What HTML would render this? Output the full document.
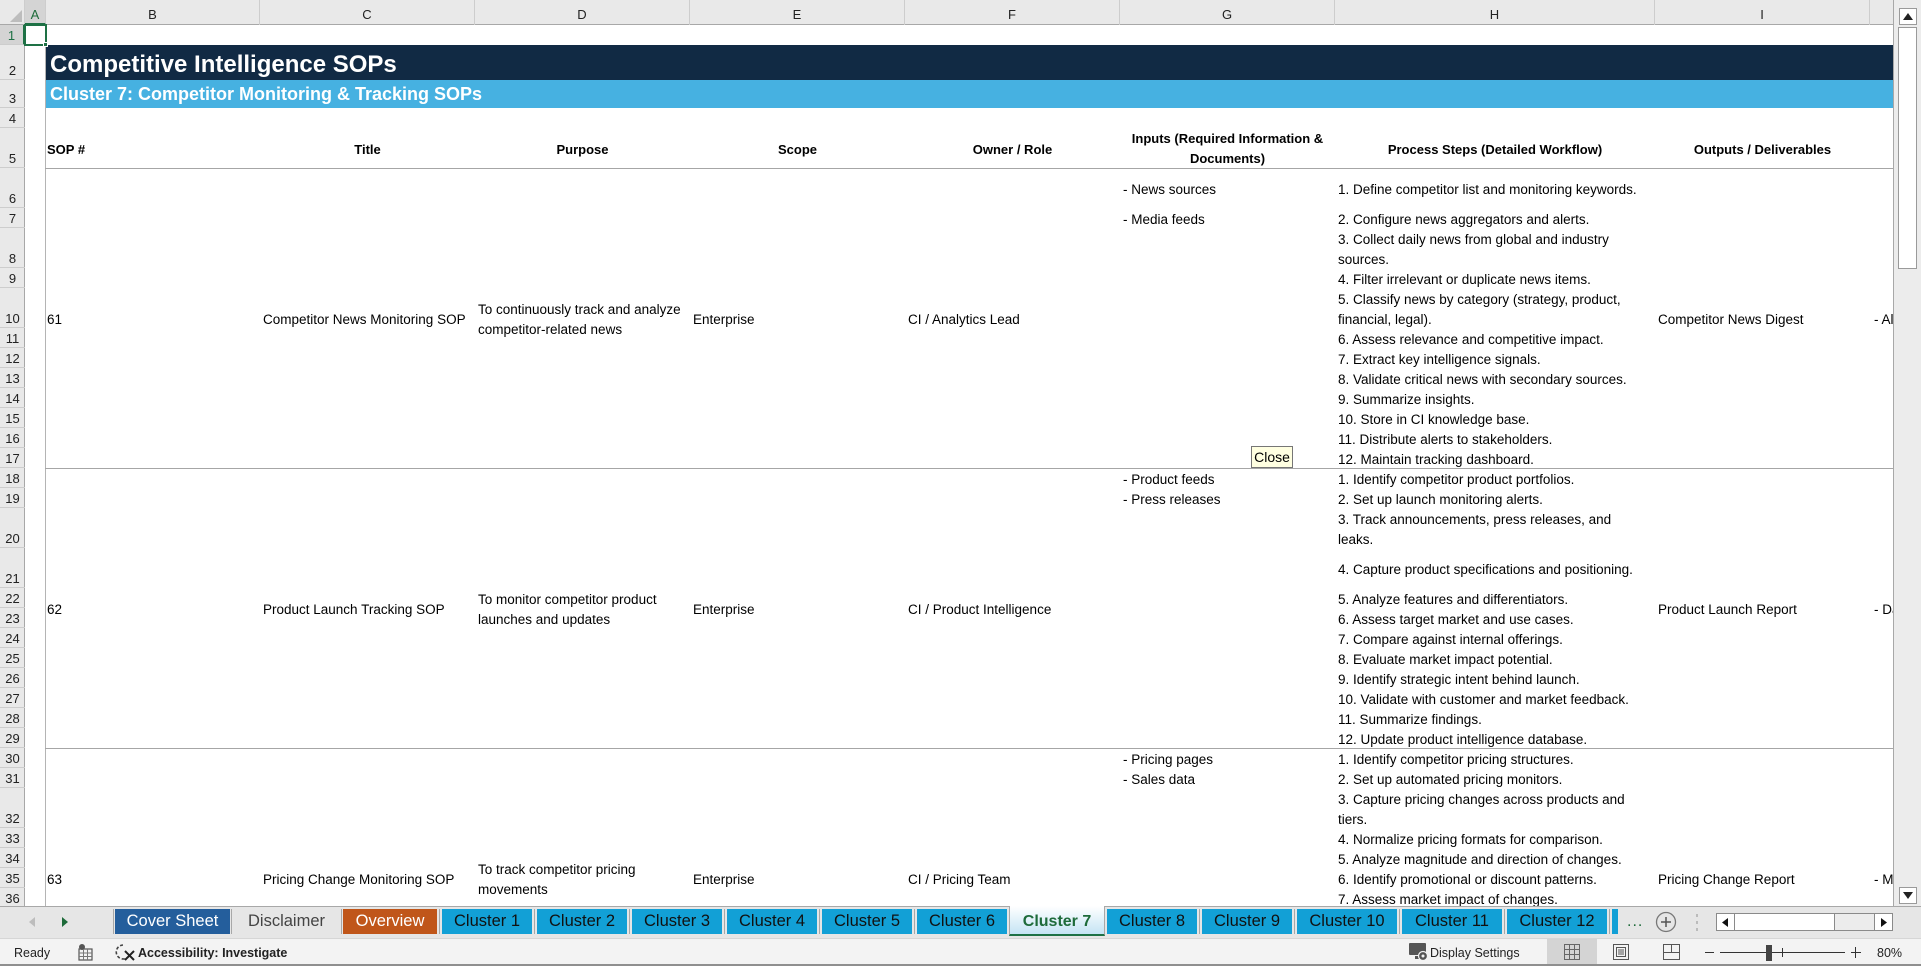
<!DOCTYPE html>
<html><head><meta charset="utf-8">
<style>
*{margin:0;padding:0;box-sizing:border-box}
body{width:1921px;height:966px;overflow:hidden;background:#fff;font-family:"Liberation Sans",Arial,sans-serif;position:relative}
.a{position:absolute}
.t{position:absolute;font-size:13.5px;line-height:20px;white-space:nowrap;color:#000;margin-top:2px}
.ch{position:absolute;top:0;height:25px;line-height:30px;text-align:center;font-size:13px;color:#222;border-right:1px solid #cdcdcd}
.rh{position:absolute;left:0;width:25px;text-align:center;font-size:13px;line-height:16px;color:#222;border-bottom:1px solid #cdcdcd;display:flex;align-items:flex-end;justify-content:center;padding-bottom:0}
.hd{position:absolute;font-size:13px;font-weight:bold;line-height:20px;text-align:center;white-space:nowrap;color:#000}
.tab{position:absolute;top:909px;height:25px;line-height:25px;font-size:16.5px;text-align:center;color:#111;background:#12a0d6;white-space:nowrap}
.sep{position:absolute;top:909px;width:1px;height:25px;background:#a8a8a8}
.hl{position:absolute;left:45px;width:1849px;height:1px;background:#a6a6a6}
</style></head><body>

<!-- SHEET AREA -->
<div class="a" style="left:0;top:0;width:1894px;height:906px;overflow:hidden;background:#fff">

  <!-- column header -->
  <div class="a" style="left:0;top:0;width:1894px;height:25px;background:#e9e9e9;border-bottom:1px solid #a8a8a8"></div>
  <div class="a" style="left:0;top:0;width:25px;height:25px;border-right:1px solid #cdcdcd"></div>
  <svg class="a" style="left:9px;top:9px" width="14" height="14"><polygon points="13,1 13,13 1,13" fill="#bdbdbd"/></svg>
  <div class="ch" style="left:25px;width:21px;background:#d4d4d4;color:#1e6b3a;border-bottom:2px solid #1e7145">A</div>
  <div class="ch" style="left:46px;width:214px">B</div>
  <div class="ch" style="left:260px;width:215px">C</div>
  <div class="ch" style="left:475px;width:215px">D</div>
  <div class="ch" style="left:690px;width:215px">E</div>
  <div class="ch" style="left:905px;width:215px">F</div>
  <div class="ch" style="left:1120px;width:215px">G</div>
  <div class="ch" style="left:1335px;width:320px">H</div>
  <div class="ch" style="left:1655px;width:215px">I</div>
  <div class="ch" style="left:1870px;width:30px;border-right:none"></div>

  <!-- row header background -->
  <div class="a" style="left:0;top:25px;width:25px;height:881px;background:#e9e9e9;border-right:1px solid #a8a8a8"></div>
  <div class="rh" style="top:25px;height:20px;background:#d4d4d4;color:#1e7145;border-right:2px solid #1e7145">1</div>
  <div class="rh" style="top:45px;height:35px">2</div>
  <div class="rh" style="top:80px;height:28px">3</div>
  <div class="rh" style="top:108px;height:20px">4</div>
  <div class="rh" style="top:128px;height:40px">5</div>
  <div class="rh" style="top:168px;height:40px">6</div>
  <div class="rh" style="top:208px;height:20px">7</div>
  <div class="rh" style="top:228px;height:40px">8</div>
  <div class="rh" style="top:268px;height:20px">9</div>
  <div class="rh" style="top:288px;height:40px">10</div>
  <div class="rh" style="top:328px;height:20px">11</div>
  <div class="rh" style="top:348px;height:20px">12</div>
  <div class="rh" style="top:368px;height:20px">13</div>
  <div class="rh" style="top:388px;height:20px">14</div>
  <div class="rh" style="top:408px;height:20px">15</div>
  <div class="rh" style="top:428px;height:20px">16</div>
  <div class="rh" style="top:448px;height:20px">17</div>
  <div class="rh" style="top:468px;height:20px">18</div>
  <div class="rh" style="top:488px;height:20px">19</div>
  <div class="rh" style="top:508px;height:40px">20</div>
  <div class="rh" style="top:548px;height:40px">21</div>
  <div class="rh" style="top:588px;height:20px">22</div>
  <div class="rh" style="top:608px;height:20px">23</div>
  <div class="rh" style="top:628px;height:20px">24</div>
  <div class="rh" style="top:648px;height:20px">25</div>
  <div class="rh" style="top:668px;height:20px">26</div>
  <div class="rh" style="top:688px;height:20px">27</div>
  <div class="rh" style="top:708px;height:20px">28</div>
  <div class="rh" style="top:728px;height:20px">29</div>
  <div class="rh" style="top:748px;height:20px">30</div>
  <div class="rh" style="top:768px;height:20px">31</div>
  <div class="rh" style="top:788px;height:40px">32</div>
  <div class="rh" style="top:828px;height:20px">33</div>
  <div class="rh" style="top:848px;height:20px">34</div>
  <div class="rh" style="top:868px;height:20px">35</div>
  <div class="rh" style="top:888px;height:20px">36</div>

  <!-- frozen/column A divider -->
  <div class="a" style="left:45px;top:25px;width:1px;height:881px;background:#b4b4b4"></div>

  <!-- title bands -->
  <div class="a" style="left:46px;top:45px;width:1848px;height:35px;background:#112a44"></div>
  <div class="a" style="left:46px;top:80px;width:1848px;height:28px;background:#46b1e1"></div>
  <div class="a" style="left:50px;top:47px;height:35px;line-height:35px;font-size:24px;font-weight:bold;color:#fff;white-space:nowrap">Competitive Intelligence SOPs</div>
  <div class="a" style="left:50px;top:80px;height:28px;line-height:28px;font-size:18px;font-weight:bold;color:#fff;white-space:nowrap">Cluster 7: Competitor Monitoring &amp; Tracking SOPs</div>

  <!-- selection A1 -->
  <div class="a" style="left:24px;top:24px;width:23px;height:22px;border:2px solid #1e7145"></div>
  <div class="a" style="left:43px;top:42px;width:5px;height:5px;background:#1e7145;border:1px solid #fff"></div>

  <!-- header row 5 -->
  <div class="hd" style="left:47px;top:140px;text-align:left">SOP #</div>
  <div class="hd" style="left:260px;top:140px;width:215px">Title</div>
  <div class="hd" style="left:475px;top:140px;width:215px">Purpose</div>
  <div class="hd" style="left:690px;top:140px;width:215px">Scope</div>
  <div class="hd" style="left:905px;top:140px;width:215px">Owner / Role</div>
  <div class="hd" style="left:1120px;top:129px;width:215px">Inputs (Required Information &amp;<br>Documents)</div>
  <div class="hd" style="left:1335px;top:140px;width:320px">Process Steps (Detailed Workflow)</div>
  <div class="hd" style="left:1655px;top:140px;width:215px">Outputs / Deliverables</div>

  <!-- horizontal borders -->
  <div class="hl" style="top:168px"></div>
  <div class="hl" style="top:468px"></div>
  <div class="hl" style="top:748px"></div>

  <!-- block 1 -->
  <div class="t" style="left:47px;top:308px">61</div>
  <div class="t" style="left:263px;top:308px">Competitor News Monitoring SOP</div>
  <div class="t" style="left:478px;top:298px">To continuously track and analyze<br>competitor-related news</div>
  <div class="t" style="left:693px;top:308px">Enterprise</div>
  <div class="t" style="left:908px;top:308px">CI / Analytics Lead</div>
  <div class="t" style="left:1658px;top:308px">Competitor News Digest</div>
  <div class="t" style="left:1874px;top:308px">- Alerts</div>
  <div class="t" style="left:1123px;top:178px">- News sources</div>
  <div class="t" style="left:1123px;top:208px">- Media feeds</div>
  <div class="t" style="left:1338px;top:178px">1. Define competitor list and monitoring keywords.</div>
  <div class="t" style="left:1338px;top:208px">2. Configure news aggregators and alerts.</div>
  <div class="t" style="left:1338px;top:228px">3. Collect daily news from global and industry<br>sources.</div>
  <div class="t" style="left:1338px;top:268px">4. Filter irrelevant or duplicate news items.</div>
  <div class="t" style="left:1338px;top:288px">5. Classify news by category (strategy, product,<br>financial, legal).</div>
  <div class="t" style="left:1338px;top:328px">6. Assess relevance and competitive impact.</div>
  <div class="t" style="left:1338px;top:348px">7. Extract key intelligence signals.</div>
  <div class="t" style="left:1338px;top:368px">8. Validate critical news with secondary sources.</div>
  <div class="t" style="left:1338px;top:388px">9. Summarize insights.</div>
  <div class="t" style="left:1338px;top:408px">10. Store in CI knowledge base.</div>
  <div class="t" style="left:1338px;top:428px">11. Distribute alerts to stakeholders.</div>
  <div class="t" style="left:1338px;top:448px">12. Maintain tracking dashboard.</div>

  <!-- block 2 -->
  <div class="t" style="left:47px;top:598px">62</div>
  <div class="t" style="left:263px;top:598px">Product Launch Tracking SOP</div>
  <div class="t" style="left:478px;top:588px">To monitor competitor product<br>launches and updates</div>
  <div class="t" style="left:693px;top:598px">Enterprise</div>
  <div class="t" style="left:908px;top:598px">CI / Product Intelligence</div>
  <div class="t" style="left:1658px;top:598px">Product Launch Report</div>
  <div class="t" style="left:1874px;top:598px">- Dashboards</div>
  <div class="t" style="left:1123px;top:468px">- Product feeds</div>
  <div class="t" style="left:1123px;top:488px">- Press releases</div>
  <div class="t" style="left:1338px;top:468px">1. Identify competitor product portfolios.</div>
  <div class="t" style="left:1338px;top:488px">2. Set up launch monitoring alerts.</div>
  <div class="t" style="left:1338px;top:508px">3. Track announcements, press releases, and<br>leaks.</div>
  <div class="t" style="left:1338px;top:558px">4. Capture product specifications and positioning.</div>
  <div class="t" style="left:1338px;top:588px">5. Analyze features and differentiators.</div>
  <div class="t" style="left:1338px;top:608px">6. Assess target market and use cases.</div>
  <div class="t" style="left:1338px;top:628px">7. Compare against internal offerings.</div>
  <div class="t" style="left:1338px;top:648px">8. Evaluate market impact potential.</div>
  <div class="t" style="left:1338px;top:668px">9. Identify strategic intent behind launch.</div>
  <div class="t" style="left:1338px;top:688px">10. Validate with customer and market feedback.</div>
  <div class="t" style="left:1338px;top:708px">11. Summarize findings.</div>
  <div class="t" style="left:1338px;top:728px">12. Update product intelligence database.</div>

  <!-- block 3 -->
  <div class="t" style="left:47px;top:868px">63</div>
  <div class="t" style="left:263px;top:868px">Pricing Change Monitoring SOP</div>
  <div class="t" style="left:478px;top:858px">To track competitor pricing<br>movements</div>
  <div class="t" style="left:693px;top:868px">Enterprise</div>
  <div class="t" style="left:908px;top:868px">CI / Pricing Team</div>
  <div class="t" style="left:1658px;top:868px">Pricing Change Report</div>
  <div class="t" style="left:1874px;top:868px">- Monitoring</div>
  <div class="t" style="left:1123px;top:748px">- Pricing pages</div>
  <div class="t" style="left:1123px;top:768px">- Sales data</div>
  <div class="t" style="left:1338px;top:748px">1. Identify competitor pricing structures.</div>
  <div class="t" style="left:1338px;top:768px">2. Set up automated pricing monitors.</div>
  <div class="t" style="left:1338px;top:788px">3. Capture pricing changes across products and<br>tiers.</div>
  <div class="t" style="left:1338px;top:828px">4. Normalize pricing formats for comparison.</div>
  <div class="t" style="left:1338px;top:848px">5. Analyze magnitude and direction of changes.</div>
  <div class="t" style="left:1338px;top:868px">6. Identify promotional or discount patterns.</div>
  <div class="t" style="left:1338px;top:888px">7. Assess market impact of changes.</div>

  <!-- Close tooltip -->
  <div class="a" style="left:1251px;top:446px;width:42px;height:22px;background:#ffffe1;border:1px solid #767676;font-size:14px;line-height:20px;text-align:center;color:#000">Close</div>

  <!-- sheet right edge -->
  <div class="a" style="left:1893px;top:0;width:1px;height:906px;background:#a8a8a8"></div>
</div>

<!-- vertical scrollbar -->
<div class="a" style="left:1894px;top:0;width:27px;height:906px;background:#ececec"></div>
<div class="a" style="left:1899px;top:8px;width:18px;height:17px;background:#fff;border:1px solid #9a9a9a"></div>
<svg class="a" style="left:1902px;top:12px" width="12" height="9"><polygon points="6,1 11,8 1,8" fill="#222"/></svg>
<div class="a" style="left:1898px;top:27px;width:19px;height:242px;background:#fff;border:1px solid #9a9a9a"></div>
<div class="a" style="left:1899px;top:887px;width:18px;height:17px;background:#fff;border:1px solid #9a9a9a"></div>
<svg class="a" style="left:1902px;top:891px" width="12" height="9"><polygon points="1,1 11,1 6,8" fill="#222"/></svg>

<!-- tab bar -->
<div class="a" style="left:0;top:906px;width:1921px;height:32px;background:#e6e6e6;border-top:1px solid #a8a8a8"></div>
<svg class="a" style="left:28px;top:916px" width="8" height="12"><polygon points="7,1 7,11 1,6" fill="#bdbdbd"/></svg>
<svg class="a" style="left:61px;top:916px" width="8" height="12"><polygon points="1,1 1,11 7,6" fill="#1e6b3a"/></svg>
<div class="sep" style="left:113px"></div>
<div class="tab" style="left:115px;width:115px;background:#245e9c;color:#fff">Cover Sheet</div>
<div class="sep" style="left:231px"></div>
<div class="tab" style="left:233px;width:107px;background:transparent;color:#444">Disclaimer</div>
<div class="sep" style="left:341px"></div>
<div class="tab" style="left:343px;width:94px;background:#c0561a;color:#fff">Overview</div>
<div class="sep" style="left:439px"></div>
<div class="tab" style="left:442px;width:90px">Cluster 1</div>
<div class="sep" style="left:534px"></div>
<div class="tab" style="left:537px;width:90px">Cluster 2</div>
<div class="sep" style="left:629px"></div>
<div class="tab" style="left:632px;width:90px">Cluster 3</div>
<div class="sep" style="left:724px"></div>
<div class="tab" style="left:727px;width:90px">Cluster 4</div>
<div class="sep" style="left:819px"></div>
<div class="tab" style="left:822px;width:90px">Cluster 5</div>
<div class="sep" style="left:914px"></div>
<div class="tab" style="left:917px;width:90px">Cluster 6</div>
<div class="a" style="left:1009px;top:906px;width:96px;height:30px;background:linear-gradient(#ffffff,#c4e4f4);border-left:1px solid #a8a8a8;border-right:1px solid #a8a8a8;border-bottom:2px solid #1e7145"></div>
<div class="tab" style="left:1010px;width:94px;background:transparent;color:#1e6b3a;font-weight:bold;font-size:16px">Cluster 7</div>
<div class="tab" style="left:1107px;width:90px">Cluster 8</div>
<div class="sep" style="left:1199px"></div>
<div class="tab" style="left:1202px;width:90px">Cluster 9</div>
<div class="sep" style="left:1294px"></div>
<div class="tab" style="left:1297px;width:100px">Cluster 10</div>
<div class="sep" style="left:1399px"></div>
<div class="tab" style="left:1402px;width:100px">Cluster 11</div>
<div class="sep" style="left:1504px"></div>
<div class="tab" style="left:1507px;width:100px">Cluster 12</div>
<div class="sep" style="left:1609px"></div>
<div class="tab" style="left:1612px;width:6px"></div>
<div class="a" style="left:1627px;top:909px;height:25px;line-height:25px;font-size:16px;color:#1e6b3a;letter-spacing:1px">...</div>
<svg class="a" style="left:1655px;top:911px" width="22" height="22"><circle cx="11" cy="11" r="9.5" fill="none" stroke="#777" stroke-width="1.3"/><line x1="6" y1="11" x2="16" y2="11" stroke="#555" stroke-width="1.5"/><line x1="11" y1="6" x2="11" y2="16" stroke="#555" stroke-width="1.5"/></svg>
<svg class="a" style="left:1695px;top:913px" width="4" height="20"><rect x="1" y="1" width="2" height="3" fill="#bbb"/><rect x="1" y="8" width="2" height="3" fill="#bbb"/><rect x="1" y="15" width="2" height="3" fill="#bbb"/></svg>
<!-- horizontal scrollbar -->
<div class="a" style="left:1716px;top:913px;width:177px;height:18px;background:#ececec;border:1px solid #8a8a8a"></div>
<div class="a" style="left:1716px;top:913px;width:19px;height:18px;background:#fff;border:1px solid #8a8a8a"></div>
<svg class="a" style="left:1721px;top:917px" width="8" height="11"><polygon points="7,1 7,10 1,5.5" fill="#111"/></svg>
<div class="a" style="left:1734px;top:913px;width:101px;height:18px;background:#fff;border:1px solid #8a8a8a"></div>
<div class="a" style="left:1874px;top:913px;width:19px;height:18px;background:#fff;border:1px solid #8a8a8a"></div>
<svg class="a" style="left:1880px;top:917px" width="8" height="11"><polygon points="1,1 1,10 7,5.5" fill="#111"/></svg>

<!-- status bar -->
<div class="a" style="left:0;top:938px;width:1921px;height:28px;background:#f3f3f3;border-top:1px solid #d6d6d6;border-bottom:2px solid #8f8f8f"></div>
<div class="a" style="left:14px;top:944px;font-size:12.5px;line-height:18px;color:#222">Ready</div>
<svg class="a" style="left:77px;top:943px" width="17" height="18"><circle cx="5" cy="4" r="3" fill="#555"/><rect x="2" y="6" width="13" height="11" fill="none" stroke="#555" stroke-width="1.2"/><line x1="2" y1="10" x2="15" y2="10" stroke="#777"/><line x1="2" y1="13.5" x2="15" y2="13.5" stroke="#777"/><line x1="6.5" y1="6" x2="6.5" y2="17" stroke="#777"/><line x1="10.5" y1="6" x2="10.5" y2="17" stroke="#777"/></svg>
<svg class="a" style="left:114px;top:942px" width="22" height="20"><path d="M9 3 A7 7 0 1 0 15 14" fill="none" stroke="#444" stroke-width="1.6" stroke-dasharray="3 2"/><line x1="11" y1="9" x2="20" y2="18" stroke="#222" stroke-width="2"/><line x1="20" y1="9" x2="11" y2="18" stroke="#222" stroke-width="2"/></svg>
<div class="a" style="left:138px;top:944px;font-size:12.5px;line-height:18px;font-weight:bold;color:#222">Accessibility: Investigate</div>
<svg class="a" style="left:1408px;top:942px" width="21" height="20"><rect x="1" y="1" width="17" height="12" rx="1" fill="#555"/><rect x="7" y="14" width="5" height="3" fill="#555"/><circle cx="15" cy="14" r="4.5" fill="#555" stroke="#f3f3f3" stroke-width="1.2"/><circle cx="15" cy="14" r="1.5" fill="#f3f3f3"/></svg>
<div class="a" style="left:1430px;top:944px;font-size:12.5px;line-height:18px;color:#222">Display Settings</div>
<div class="a" style="left:1547px;top:939px;width:50px;height:25px;background:#d4d4d4"></div>
<svg class="a" style="left:1564px;top:944px" width="16" height="16"><rect x="0.5" y="0.5" width="15" height="15" fill="none" stroke="#666"/><line x1="5.5" y1="0" x2="5.5" y2="16" stroke="#666"/><line x1="10.5" y1="0" x2="10.5" y2="16" stroke="#666"/><line x1="0" y1="5.5" x2="16" y2="5.5" stroke="#666"/><line x1="0" y1="10.5" x2="16" y2="10.5" stroke="#666"/></svg>
<svg class="a" style="left:1613px;top:944px" width="16" height="16"><rect x="0.5" y="0.5" width="15" height="15" fill="none" stroke="#555"/><rect x="3.5" y="3.5" width="9" height="9" fill="none" stroke="#555"/><line x1="5" y1="6" x2="11" y2="6" stroke="#555"/><line x1="5" y1="8" x2="11" y2="8" stroke="#555"/><line x1="5" y1="10" x2="11" y2="10" stroke="#555"/></svg>
<svg class="a" style="left:1663px;top:944px" width="17" height="16"><rect x="0.5" y="0.5" width="16" height="15" fill="none" stroke="#555"/><line x1="8.5" y1="0" x2="8.5" y2="8" stroke="#555"/><line x1="0" y1="8.5" x2="17" y2="8.5" stroke="#555"/></svg>
<div class="a" style="left:1705px;top:952px;width:9px;height:1px;background:#333"></div>
<div class="a" style="left:1720px;top:952px;width:125px;height:1px;background:#333"></div>
<div class="a" style="left:1766px;top:945px;width:6px;height:16px;background:#444"></div>
<div class="a" style="left:1782px;top:948px;width:1px;height:9px;background:#333"></div>
<div class="a" style="left:1851px;top:952px;width:10px;height:1px;background:#333"></div>
<div class="a" style="left:1855px;top:947px;width:1px;height:11px;background:#333"></div>
<div class="a" style="left:1877px;top:944px;font-size:12.5px;line-height:18px;color:#222">80%</div>

</body></html>
